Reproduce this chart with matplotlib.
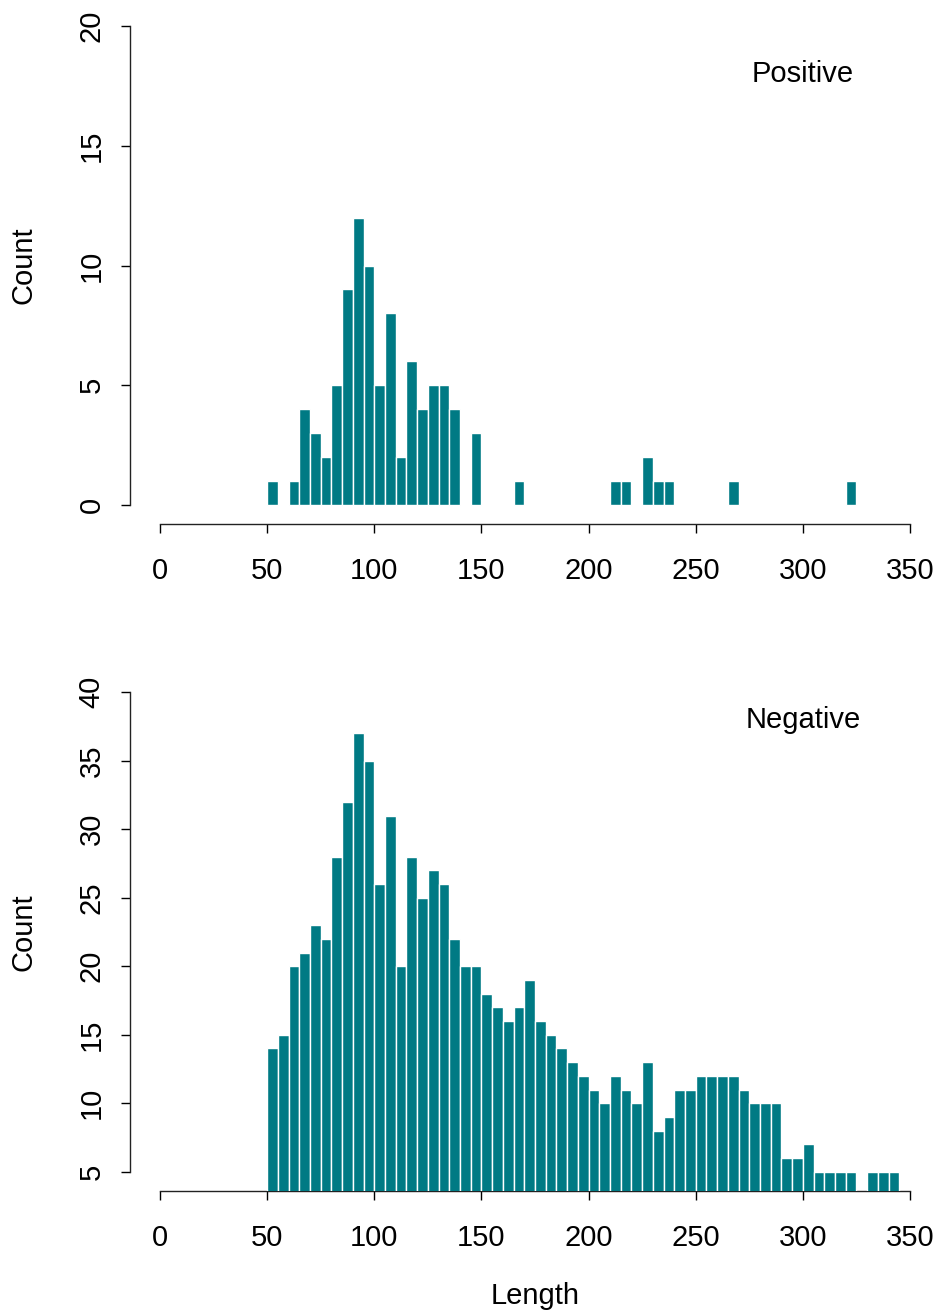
import numpy as np
import matplotlib.pyplot as plt

plt.rcParams['font.family'] = ['Liberation Sans', 'DejaVu Sans']

# histogram bins (left edges, width 5)
bin_width = 5
pos_bins = [50, 60, 65, 70, 75, 80, 85, 90, 95, 100, 105, 110, 115, 120, 125,
            130, 135, 145, 165, 210, 215, 225, 230, 235, 265, 320]
pos_counts = [1, 1, 4, 3, 2, 5, 9, 12, 10, 5, 8, 2, 6, 4, 5,
              5, 4, 3, 1, 1, 1, 2, 1, 1, 1, 1]

neg_bins = list(range(50, 345, 5))
neg_counts = [14, 15, 20, 21, 23, 22, 28, 32, 37, 35, 26, 31, 20, 28, 25, 27,
              26, 22, 20, 20, 18, 17, 16, 17, 19, 16, 15, 14, 13, 12, 11, 10,
              12, 11, 10, 13, 8, 9, 11, 11, 12, 12, 12, 12, 11, 10, 10, 10,
              6, 6, 7, 5, 5, 5, 5, 0, 5, 5, 5]

x_ticks = [0, 50, 100, 150, 200, 250, 300, 350]
pos_yticks = [0, 5, 10, 15, 20]
neg_yticks = [5, 10, 15, 20, 25, 30, 35, 40]

bar_color = '#007A84'
W, H = 939, 1310
fs = 21


def px_rect(left, top, right, bottom):
    return [left / W, 1 - bottom / H, (right - left) / W, (bottom - top) / H]


def draw_panel(ax, bins, counts, ylim, yticks, label, label_y):
    b = [x for x, c in zip(bins, counts) if c > 0]
    c = [c for c in counts if c > 0]
    ax.bar(b, c, width=bin_width, align='edge', color=bar_color,
           edgecolor='white', linewidth=1.0, zorder=3)
    ax.set_xlim(-14, 364)
    ax.set_ylim(*ylim)
    for s in ['top', 'right']:
        ax.spines[s].set_visible(False)
    ax.spines['left'].set_bounds(yticks[0], yticks[-1])
    ax.spines['bottom'].set_bounds(0, 350)
    for s in ['left', 'bottom']:
        ax.spines[s].set_linewidth(1.0)
        ax.spines[s].set_color('#222222')
    ax.set_xticks(x_ticks)
    ax.set_yticks(yticks)
    ax.tick_params(axis='x', length=6.5, width=1.0, labelsize=fs, pad=17)
    ax.tick_params(axis='y', length=6.5, width=1.0, labelsize=fs, pad=11,
                   labelrotation=90)
    for t in ax.get_yticklabels():
        t.set_va('center')
    ax.text(300, label_y, label, fontsize=fs, ha='center', va='center')
    ax.set_ylabel('Count', fontsize=fs, labelpad=29)


fig = plt.figure(figsize=(W / 100, H / 100), dpi=100)
ax1 = fig.add_axes(px_rect(130, 7, 940, 524))
ax2 = fig.add_axes(px_rect(130, 673, 940, 1191))

draw_panel(ax1, pos_bins, pos_counts, (-0.8, 20.8), pos_yticks, 'Positive', 18)
draw_panel(ax2, neg_bins, neg_counts, (3.6, 41.4), neg_yticks, 'Negative', 38)
ax2.set_xlabel('Length', fontsize=fs, labelpad=22)

fig.savefig('out.png', dpi=100)
